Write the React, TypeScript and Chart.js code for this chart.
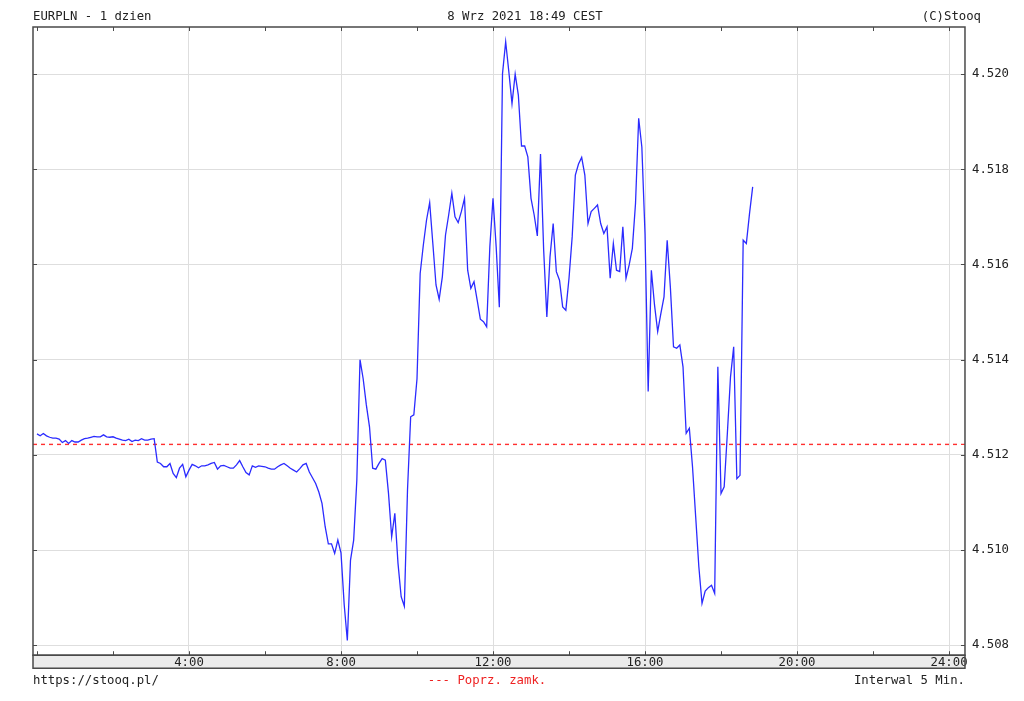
import React, { useEffect, useRef } from "react";
import { Chart, registerables } from "chart.js";

Chart.register(...registerables);

// ---- texts ----
const TITLE_LEFT = "EURPLN - 1 dzien";
const TITLE_CENTER = "8 Wrz 2021 18:49 CEST";
const TITLE_RIGHT = "(C)Stooq";
const FOOTER_LEFT = "https://stooq.pl/";
const FOOTER_CENTER = "--- Poprz. zamk.";
const FOOTER_RIGHT = "Interwal 5 Min.";

// ---- data ----
const INTERVAL_MIN = 5; // one price every 5 minutes, starting at 0:00
const PRICES = [
  // 0:00 - 3:05
  4.51244, 4.5124, 4.51245, 4.5124, 4.51237, 4.51235, 4.51235, 4.51233, 4.51226, 4.5123,
  4.51224, 4.5123, 4.51227, 4.51227, 4.51231, 4.51234, 4.51235, 4.51237, 4.51239, 4.51238,
  4.51238, 4.51242, 4.51238, 4.51237, 4.51238, 4.51235, 4.51233, 4.51231, 4.5123, 4.51233,
  4.51228, 4.51231, 4.5123, 4.51234, 4.51231, 4.51231, 4.51233, 4.51234,
  // 3:10 - 7:20
  4.51185, 4.51182, 4.51175, 4.51175, 4.51182, 4.51161, 4.51152, 4.51172, 4.5118, 4.51154,
  4.51168, 4.5118, 4.51177, 4.51173, 4.51177, 4.51177, 4.51179, 4.51182, 4.51184, 4.5117,
  4.51177, 4.51178, 4.51175, 4.51172, 4.51172, 4.51179, 4.51188, 4.51175, 4.51163, 4.51158,
  4.51177, 4.51174, 4.51177, 4.51176, 4.51175, 4.51172, 4.5117, 4.5117, 4.51175, 4.51179,
  4.51182, 4.51177, 4.51172, 4.51168, 4.51164, 4.51171, 4.51179, 4.51182, 4.51164, 4.51152,
  4.5114,
  // 7:25 - 10:00
  4.51122, 4.51098, 4.51049, 4.51013, 4.51013, 4.50993, 4.51021, 4.50994, 4.50886, 4.5081,
  4.50979, 4.51021, 4.51147, 4.514, 4.5136, 4.51305, 4.51259, 4.51172, 4.5117, 4.51182,
  4.51192, 4.51189, 4.51119, 4.51028, 4.51077, 4.50972, 4.50902, 4.50882, 4.51126, 4.5128,
  4.51284, 4.5136,
  // 10:05 - 12:40
  4.51581, 4.51641, 4.51693, 4.5173, 4.51644, 4.51557, 4.51527, 4.51574, 4.51662, 4.51704,
  4.5175, 4.517, 4.51688, 4.51711, 4.51739, 4.51588, 4.5155, 4.51564, 4.51525, 4.51485,
  4.5148, 4.51469, 4.51637, 4.51739, 4.51637, 4.5151, 4.52001, 4.52068, 4.52005, 4.51938,
  4.52, 4.51956,
  // 12:45 - 15:50
  4.51849, 4.51849, 4.51826, 4.51739, 4.51704, 4.5166, 4.51832, 4.5163, 4.5149, 4.51616,
  4.51686, 4.51585, 4.51567, 4.51511, 4.51504, 4.51571, 4.51658, 4.51788, 4.51811, 4.51825,
  4.51788, 4.51686, 4.51711, 4.51718, 4.51725, 4.51686, 4.51665, 4.51679, 4.51571, 4.51644,
  4.51588, 4.51585, 4.51679, 4.51571, 4.51599, 4.51634, 4.51728, 4.51907,
  // 15:55 - 18:50
  4.51847, 4.51665, 4.51333, 4.51588, 4.51515, 4.51459, 4.51497, 4.51532, 4.51651, 4.51553,
  4.51427, 4.51424, 4.51431, 4.51385, 4.51245, 4.51256, 4.51175, 4.5107, 4.50965, 4.50888,
  4.50914, 4.50921, 4.50926, 4.50909, 4.51385, 4.51119, 4.51133, 4.51245, 4.51364, 4.51427,
  4.5115, 4.51157, 4.51651, 4.51644, 4.51707, 4.51763,
];
const PREV_CLOSE = 4.51222;

// ---- axes ----
const Y_TICKS = [4.508, 4.51, 4.512, 4.514, 4.516, 4.518, 4.52];
const X_TICK_HOURS = [0, 2, 4, 6, 8, 10, 12, 14, 16, 18, 20, 22, 24];
const X_LABEL_HOURS = [4, 8, 12, 16, 20, 24];
const X_MIN = -0.105;
const X_MAX = 24.42;
const Y_MIN = 4.50779;
const Y_MAX = 4.52099;

const FONT = "'DejaVu Sans Mono', 'Liberation Mono', monospace";
const FONT_SIZE = 12.3;
const TEXT_COLOR = "#222222";
const FRAME_COLOR = "#4a4a4a";
const GRID_COLOR = "#dedede";

const framePlugin = {
  id: "stooqFrame",
  beforeDraw(chart: any) {
    const { ctx, chartArea } = chart;
    ctx.save();
    ctx.fillStyle = "#ffffff";
    ctx.fillRect(0, 0, chart.width, chart.height);
    // x-axis label band
    ctx.fillStyle = "#ebebeb";
    ctx.fillRect(chartArea.left, chartArea.bottom, chartArea.right - chartArea.left, 13);
    ctx.restore();
  },
  afterDraw(chart: any) {
    const { ctx, chartArea } = chart;
    const xs = chart.scales.x;
    const ys = chart.scales.y;
    const L = chartArea.left;
    const R = chartArea.right;
    const T = chartArea.top;
    const B = chartArea.bottom;
    ctx.save();
    ctx.strokeStyle = FRAME_COLOR;
    ctx.lineWidth = 1.5;
    ctx.strokeRect(L, T, R - L, B - T);
    ctx.strokeRect(L, B, R - L, 13);
    ctx.lineWidth = 1;
    ctx.beginPath();
    for (const h of X_TICK_HOURS) {
      const px = Math.round(xs.getPixelForValue(h)) + 0.5;
      ctx.moveTo(px, T);
      ctx.lineTo(px, T + 4);
      ctx.moveTo(px, B);
      ctx.lineTo(px, B - 4);
    }
    for (const v of Y_TICKS) {
      const py = Math.round(ys.getPixelForValue(v)) + 0.5;
      ctx.moveTo(L, py);
      ctx.lineTo(L + 4, py);
      ctx.moveTo(R, py);
      ctx.lineTo(R - 4, py);
    }
    ctx.stroke();

    ctx.font = `${FONT_SIZE}px ${FONT}`;
    ctx.textBaseline = "middle";
    ctx.fillStyle = TEXT_COLOR;
    ctx.textAlign = "left";
    ctx.fillText(TITLE_LEFT, L, 17);
    ctx.textAlign = "center";
    ctx.fillText(TITLE_CENTER, 525, 17);
    ctx.textAlign = "right";
    ctx.fillText(TITLE_RIGHT, 981, 17);

    ctx.textAlign = "left";
    ctx.fillText(FOOTER_LEFT, L, 681);
    ctx.textAlign = "right";
    ctx.fillText(FOOTER_RIGHT, R, 681);
    ctx.textAlign = "center";
    ctx.fillStyle = "#ee2222";
    ctx.fillText(FOOTER_CENTER, 487, 681);
    ctx.restore();
  },
};

export default function App() {
  const canvasRef = useRef<HTMLCanvasElement | null>(null);

  useEffect(() => {
    document.body.style.margin = "0";
    const canvas = canvasRef.current;
    if (!canvas) return;
    const chart = new Chart(canvas, {
      type: "line",
      data: {
        datasets: [
          {
            data: PRICES.map((v, i) => ({ x: (i * INTERVAL_MIN) / 60, y: v })),
            borderColor: "#2b2bff",
            borderWidth: 1.3,
            pointRadius: 0,
            tension: 0,
            fill: false,
          },
          {
            data: [
              { x: X_MIN, y: PREV_CLOSE },
              { x: X_MAX, y: PREV_CLOSE },
            ],
            borderColor: "#ff3030",
            borderWidth: 1.4,
            borderDash: [4, 4],
            pointRadius: 0,
            fill: false,
          },
        ],
      },
      options: {
        responsive: false,
        animation: false,
        events: [],
        layout: { padding: { left: 33, top: 27, right: 8, bottom: 31 } },
        plugins: {
          legend: { display: false },
          tooltip: { enabled: false },
        },
        scales: {
          x: {
            type: "linear",
            min: X_MIN,
            max: X_MAX,
            position: "bottom",
            afterBuildTicks: (s: any) => {
              s.ticks = X_TICK_HOURS.map((v) => ({ value: v }));
            },
            border: { display: false },
            grid: {
              drawTicks: false,
              lineWidth: 1,
              color: (c: any) =>
                c.tick && X_LABEL_HOURS.includes(c.tick.value) ? GRID_COLOR : "rgba(0,0,0,0)",
            },
            ticks: {
              autoSkip: false,
              maxRotation: 0,
              minRotation: 0,
              padding: 0,
              color: TEXT_COLOR,
              font: { family: FONT, size: FONT_SIZE },
              callback: (v: any) => (X_LABEL_HOURS.includes(Number(v)) ? `${v}:00` : ""),
            },
          },
          y: {
            type: "linear",
            min: Y_MIN,
            max: Y_MAX,
            position: "right",
            afterBuildTicks: (s: any) => {
              s.ticks = Y_TICKS.map((v) => ({ value: v }));
            },
            border: { display: false },
            grid: { drawTicks: false, lineWidth: 1, color: GRID_COLOR },
            ticks: {
              padding: 7,
              color: TEXT_COLOR,
              font: { family: FONT, size: FONT_SIZE },
              callback: (v: any) => Number(v).toFixed(3),
            },
          },
        },
      },
      plugins: [framePlugin],
    });
    return () => chart.destroy();
  }, []);

  return (
    <div style={{ position: "absolute", left: 0, top: 0, width: 1024, height: 701, background: "#fff" }}>
      <canvas ref={canvasRef} width={1024} height={701} style={{ width: 1024, height: 701, display: "block" }} />
    </div>
  );
}
